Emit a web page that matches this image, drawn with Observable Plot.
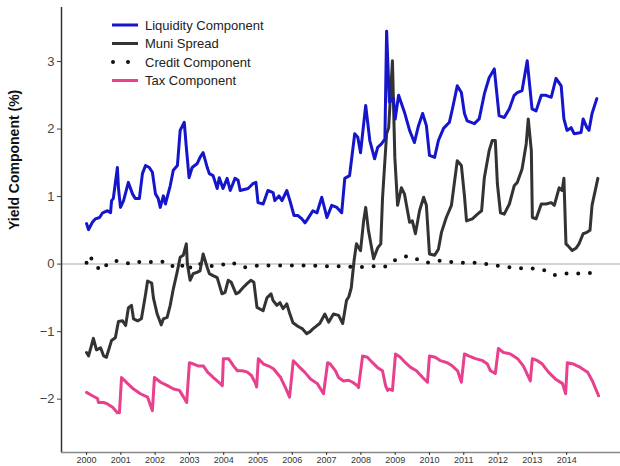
<!DOCTYPE html>
<html><head><meta charset="utf-8">
<script src="https://cdn.jsdelivr.net/npm/d3@7"></script>
<script src="https://cdn.jsdelivr.net/npm/@observablehq/plot@0.6"></script>
<style>body{margin:0;background:#fff;} #chart svg{display:block;}</style>
</head><body><div id="chart"></div>
<script>
const yearTicks = d3.range(2000, 2015);
const yTicks = [-2, -1, 0, 1, 2, 3];
const xDomain = [1999.27, 2015.57];
const yDomain = [-2.79, 3.80];
const yTitle = "Yield Component (%)";
const seriesNames = ["Liquidity Component", "Muni Spread", "Credit Component", "Tax Component"];
const seriesColors = ["#1515cc", "#333333", "#111111", "#e8408c"];

const liquidity = [[2000.00,0.60],[2000.06,0.51],[2000.17,0.62],[2000.26,0.67],[2000.38,0.69],[2000.47,0.76],[2000.61,0.79],[2000.70,0.76],[2000.73,0.94],[2000.78,0.97],[2000.90,1.43],[2000.93,1.13],[2000.99,0.84],[2001.08,0.94],[2001.22,1.21],[2001.34,1.04],[2001.42,0.97],[2001.54,0.97],[2001.63,1.34],[2001.72,1.46],[2001.83,1.43],[2001.92,1.36],[2002.01,1.04],[2002.09,0.97],[2002.15,0.84],[2002.24,1.01],[2002.30,0.89],[2002.44,1.16],[2002.53,1.39],[2002.65,1.46],[2002.73,1.98],[2002.85,2.10],[2002.91,1.73],[2002.99,1.28],[2003.08,1.43],[2003.23,1.49],[2003.31,1.58],[2003.40,1.65],[2003.52,1.43],[2003.58,1.34],[2003.69,1.31],[2003.81,1.12],[2003.87,1.28],[2003.98,1.12],[2004.10,1.27],[2004.19,1.09],[2004.33,1.27],[2004.42,1.24],[2004.48,1.09],[2004.71,1.12],[2004.85,1.19],[2004.94,1.21],[2005.00,0.91],[2005.15,0.89],[2005.29,1.09],[2005.44,1.06],[2005.49,0.94],[2005.61,1.01],[2005.70,0.94],[2005.84,1.09],[2005.93,0.94],[2006.05,0.72],[2006.16,0.72],[2006.28,0.67],[2006.37,0.61],[2006.45,0.67],[2006.60,0.79],[2006.72,0.76],[2006.86,0.99],[2007.01,0.69],[2007.15,0.87],[2007.30,0.84],[2007.44,0.76],[2007.53,1.27],[2007.67,1.31],[2007.82,1.93],[2007.91,1.88],[2007.99,1.65],[2008.14,2.35],[2008.26,1.83],[2008.40,1.56],[2008.49,1.73],[2008.60,1.78],[2008.70,1.85],[2008.75,3.45],[2008.83,2.40],[2008.95,2.45],[2009.00,2.15],[2009.10,2.50],[2009.27,2.25],[2009.42,1.98],[2009.56,1.80],[2009.68,2.05],[2009.80,2.23],[2009.91,2.05],[2010.00,1.61],[2010.15,1.58],[2010.26,1.83],[2010.41,2.01],[2010.58,2.10],[2010.67,2.30],[2010.81,2.64],[2010.93,2.54],[2011.02,2.23],[2011.10,2.12],[2011.31,2.08],[2011.45,2.15],[2011.60,2.52],[2011.74,2.76],[2011.89,2.89],[2012.03,2.20],[2012.18,2.17],[2012.33,2.30],[2012.47,2.50],[2012.56,2.54],[2012.70,2.57],[2012.85,3.01],[2012.99,2.30],[2013.11,2.27],[2013.26,2.50],[2013.40,2.50],[2013.55,2.47],[2013.69,2.75],[2013.84,2.64],[2013.92,2.15],[2014.01,1.98],[2014.13,2.02],[2014.22,1.93],[2014.42,1.95],[2014.48,2.15],[2014.59,2.02],[2014.65,1.98],[2014.74,2.23],[2014.88,2.45]];

const muniSpread = [[2000.00,-1.31],[2000.06,-1.36],[2000.20,-1.10],[2000.29,-1.27],[2000.41,-1.24],[2000.50,-1.36],[2000.58,-1.38],[2000.73,-1.13],[2000.84,-1.09],[2000.93,-0.85],[2001.05,-0.84],[2001.14,-0.91],[2001.22,-0.65],[2001.31,-0.61],[2001.37,-0.81],[2001.49,-0.84],[2001.60,-0.81],[2001.72,-0.45],[2001.78,-0.25],[2001.90,-0.28],[2001.95,-0.50],[2002.06,-0.74],[2002.18,-0.90],[2002.24,-0.81],[2002.35,-0.79],[2002.44,-0.61],[2002.53,-0.37],[2002.65,-0.10],[2002.73,0.10],[2002.82,0.13],[2002.91,0.30],[2002.94,0.00],[2003.02,-0.24],[2003.11,-0.14],[2003.23,-0.12],[2003.31,-0.10],[2003.40,0.15],[2003.52,-0.05],[2003.58,-0.14],[2003.69,-0.17],[2003.81,-0.20],[2003.95,-0.44],[2004.04,-0.42],[2004.13,-0.24],[2004.22,-0.27],[2004.36,-0.44],[2004.44,-0.42],[2004.56,-0.35],[2004.68,-0.29],[2004.79,-0.24],[2004.88,-0.27],[2004.97,-0.64],[2005.15,-0.69],[2005.26,-0.50],[2005.38,-0.44],[2005.44,-0.54],[2005.55,-0.61],[2005.64,-0.57],[2005.73,-0.66],[2005.84,-0.59],[2005.93,-0.74],[2006.02,-0.87],[2006.16,-0.92],[2006.30,-0.96],[2006.42,-1.03],[2006.52,-1.00],[2006.60,-0.96],[2006.72,-0.91],[2006.80,-0.88],[2006.95,-0.74],[2007.06,-0.86],[2007.20,-0.74],[2007.35,-0.76],[2007.47,-0.88],[2007.58,-0.54],[2007.65,-0.48],[2007.72,-0.35],[2007.80,0.05],[2007.87,0.30],[2007.99,0.20],[2008.08,0.64],[2008.14,0.84],[2008.22,0.50],[2008.37,0.08],[2008.49,0.24],[2008.58,0.30],[2008.63,0.97],[2008.75,1.93],[2008.81,2.02],[2008.92,3.01],[2008.99,1.58],[2009.07,0.87],[2009.18,1.13],[2009.27,1.04],[2009.42,0.62],[2009.50,0.64],[2009.59,0.45],[2009.71,0.79],[2009.83,0.99],[2009.91,0.87],[2010.00,0.15],[2010.15,0.13],[2010.26,0.22],[2010.35,0.47],[2010.49,0.69],[2010.64,0.87],[2010.81,1.53],[2010.93,1.46],[2011.02,1.01],[2011.08,0.64],[2011.25,0.67],[2011.40,0.74],[2011.52,0.79],[2011.60,1.28],[2011.74,1.68],[2011.83,1.83],[2011.92,1.83],[2011.98,1.19],[2012.07,0.76],[2012.18,0.74],[2012.33,0.89],[2012.47,1.16],[2012.56,1.21],[2012.70,1.41],[2012.82,1.78],[2012.88,2.15],[2012.97,1.68],[2013.00,0.69],[2013.11,0.67],[2013.26,0.89],[2013.40,0.89],[2013.55,0.91],[2013.64,0.87],[2013.78,1.13],[2013.87,1.09],[2013.92,1.27],[2013.98,0.30],[2014.04,0.27],[2014.16,0.20],[2014.28,0.24],[2014.36,0.30],[2014.48,0.45],[2014.59,0.47],[2014.68,0.50],[2014.74,0.87],[2014.91,1.27]];

const credit = [[2000.00,0.02],[2000.08,0.13],[2000.20,0.04],[2000.40,-0.10],[2000.65,0.02],[2000.80,0.05],[2001.00,0.04],[2001.30,0.00],[2001.60,0.04],[2001.90,0.03],[2002.20,0.04],[2002.45,-0.04],[2002.70,0.02],[2002.95,-0.10],[2003.10,0.00],[2003.40,0.00],[2003.60,-0.03],[2003.90,-0.02],[2004.20,0.03],[2004.60,-0.05],[2005.00,-0.02],[2005.50,-0.02],[2006.00,-0.02],[2006.50,-0.02],[2007.00,-0.03],[2007.50,-0.03],[2007.90,-0.05],[2008.30,-0.03],[2008.70,-0.04],[2008.90,0.03],[2009.10,0.09],[2009.40,0.12],[2009.60,0.08],[2009.90,0.02],[2010.30,0.05],[2010.65,0.03],[2011.00,0.02],[2011.40,0.02],[2011.80,-0.01],[2012.20,-0.04],[2012.55,-0.06],[2012.90,-0.06],[2013.30,-0.08],[2013.65,-0.16],[2014.00,-0.14],[2014.40,-0.14],[2014.75,-0.13]];

const tax = [[2000.00,-1.90],[2000.17,-1.95],[2000.32,-1.99],[2000.35,-2.05],[2000.50,-2.05],[2000.61,-2.07],[2000.76,-2.12],[2000.90,-2.20],[2000.96,-2.20],[2001.02,-1.68],[2001.20,-1.77],[2001.37,-1.85],[2001.57,-1.92],[2001.78,-1.97],[2001.92,-2.17],[2001.98,-1.68],[2002.16,-1.75],[2002.36,-1.80],[2002.54,-1.85],[2002.71,-1.87],[2002.83,-1.97],[2002.92,-2.05],[2003.00,-1.46],[2003.12,-1.48],[2003.27,-1.51],[2003.41,-1.51],[2003.53,-1.60],[2003.70,-1.68],[2003.90,-1.77],[2003.96,-1.80],[2003.99,-1.40],[2004.14,-1.40],[2004.29,-1.51],[2004.40,-1.58],[2004.55,-1.58],[2004.69,-1.60],[2004.81,-1.65],[2004.93,-1.77],[2004.96,-1.82],[2005.01,-1.40],[2005.16,-1.48],[2005.31,-1.51],[2005.45,-1.55],[2005.66,-1.68],[2005.80,-1.83],[2005.92,-1.97],[2006.03,-1.43],[2006.18,-1.51],[2006.36,-1.60],[2006.53,-1.70],[2006.73,-1.77],[2006.91,-1.92],[2007.03,-1.46],[2007.11,-1.48],[2007.26,-1.58],[2007.35,-1.68],[2007.49,-1.73],[2007.64,-1.72],[2007.76,-1.75],[2007.90,-1.80],[2007.93,-1.83],[2008.05,-1.36],[2008.19,-1.38],[2008.34,-1.46],[2008.48,-1.53],[2008.63,-1.58],[2008.72,-1.80],[2008.78,-1.87],[2008.83,-1.85],[2008.92,-1.87],[2009.01,-1.33],[2009.15,-1.38],[2009.30,-1.46],[2009.45,-1.53],[2009.62,-1.58],[2009.80,-1.68],[2009.94,-1.75],[2010.00,-1.36],[2010.17,-1.38],[2010.32,-1.43],[2010.52,-1.46],[2010.67,-1.51],[2010.82,-1.58],[2010.93,-1.75],[2011.02,-1.33],[2011.14,-1.36],[2011.34,-1.40],[2011.55,-1.43],[2011.69,-1.48],[2011.78,-1.58],[2011.92,-1.62],[2012.01,-1.25],[2012.16,-1.31],[2012.36,-1.33],[2012.57,-1.40],[2012.74,-1.51],[2012.94,-1.73],[2013.00,-1.40],[2013.15,-1.43],[2013.29,-1.48],[2013.47,-1.60],[2013.67,-1.70],[2013.88,-1.77],[2013.97,-1.92],[2014.02,-1.46],[2014.20,-1.48],[2014.40,-1.53],[2014.61,-1.60],[2014.75,-1.73],[2014.93,-1.95]];

const font = "'Liberation Sans', Arial, sans-serif";
const X = d => d[0], Y = d => d[1];

const plot = Plot.plot({
  width: 620, height: 466,
  marginLeft: 61, marginRight: 0, marginTop: 7, marginBottom: 14,
  style: {fontFamily: font, background: "#fff", overflow: "visible"},
  x: {domain: xDomain},
  y: {domain: yDomain},
  marks: [
    Plot.ruleY([0], {stroke: "#c4c4c4", strokeWidth: 1.5}),
    Plot.line(tax, {x: X, y: Y, stroke: seriesColors[3], strokeWidth: 3, strokeLinejoin: "round"}),
    Plot.line(credit, {x: X, y: Y, stroke: seriesColors[2], strokeWidth: 4, strokeLinecap: "round", strokeDasharray: "0 11.7"}),
    Plot.line(muniSpread, {x: X, y: Y, stroke: seriesColors[1], strokeWidth: 3, strokeLinejoin: "round"}),
    Plot.line(liquidity, {x: X, y: Y, stroke: seriesColors[0], strokeWidth: 3, strokeLinejoin: "round"}),
    Plot.ruleX([xDomain[0]], {stroke: "#333", strokeWidth: 1.5}),
    Plot.ruleY([yDomain[0]], {stroke: "#888", strokeWidth: 1.5}),
    Plot.axisY({ticks: yTicks, tickFormat: "d", tickSize: 4, tickPadding: 3, fontSize: 13, color: "#444", label: null}),
    Plot.axisX({ticks: yearTicks, tickFormat: "d", tickSize: 3, tickPadding: 1, fontSize: 9, color: "#333", label: null}),
    Plot.text([yTitle], {frameAnchor: "left", rotate: -90, dx: -47, fontSize: 14, fontWeight: "bold", fill: "#111"})
  ]
});

// legend inside the plot, top left
const svg = d3.select(plot);
const leg = svg.append("g").attr("font-family", font).attr("font-size", 13).attr("text-anchor", "start");
seriesNames.forEach((name, i) => {
  const yy = 25 + i * 18.5;
  const ln = leg.append("line").attr("x1", i === 2 ? 113 : 112).attr("x2", 138)
    .attr("y1", yy).attr("y2", yy).attr("stroke", seriesColors[i]);
  if (i === 2) ln.attr("stroke-width", 4).attr("stroke-linecap", "round").attr("stroke-dasharray", "0 15");
  else ln.attr("stroke-width", 3);
  leg.append("text").attr("x", 145).attr("y", yy).attr("dy", "0.35em").attr("fill", "#222").attr("text-anchor", "start").text(name);
});

document.getElementById("chart").append(plot);
</script>
</body></html>
